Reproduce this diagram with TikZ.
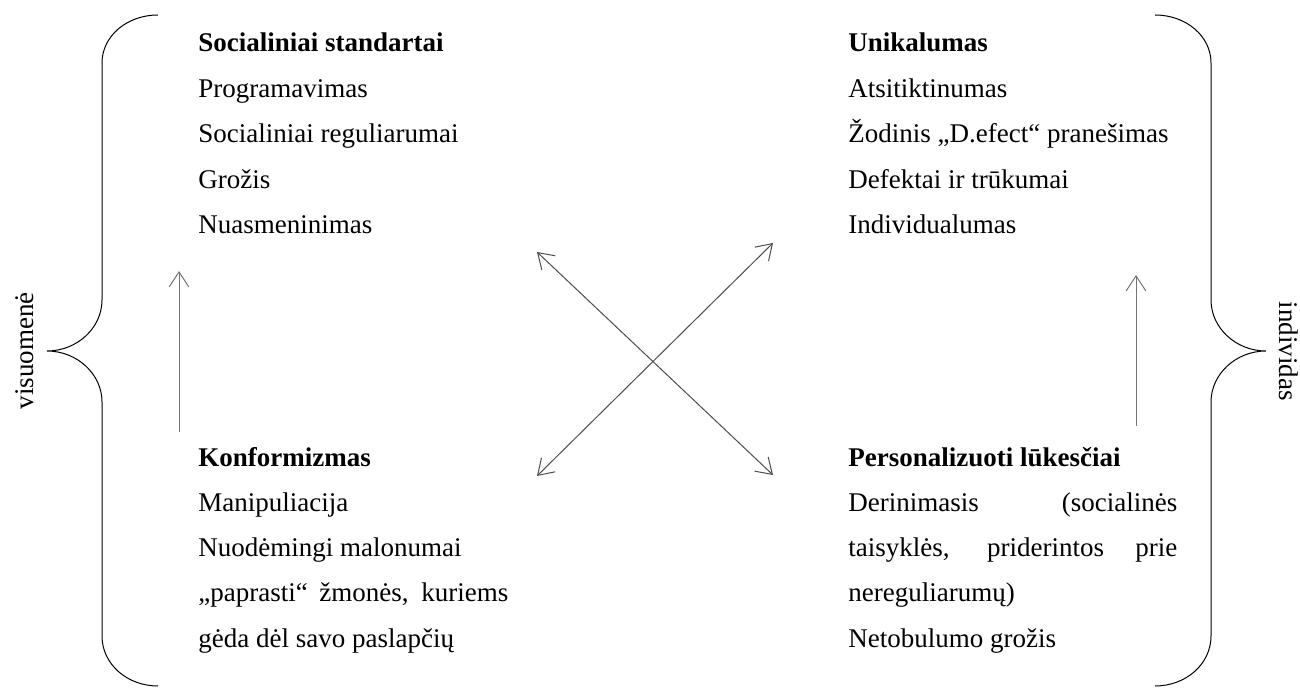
\documentclass[tikz,border=0pt]{standalone}
\usepackage{fontspec}
\setmainfont{Liberation Serif}
\usetikzlibrary{arrows.meta}
\tikzset{
  txt/.style={anchor=base west, inner sep=0pt, font=\fontsize{13.5}{16}\selectfont},
  hd/.style={txt, font=\fontsize{13.5}{16}\selectfont\bfseries},
  side/.style={inner sep=0pt, font=\fontsize{13.5}{16}\selectfont},
  brace/.style={line width=0.5pt, draw=black},
  conn/.style={line width=0.5pt, draw=black!70, {Straight Barb[length=7.5pt,width=9.8pt]}-{Straight Barb[length=7.5pt,width=9.8pt]}},
  upconn/.style={line width=0.5pt, draw=black!55, -{Straight Barb[length=7.5pt,width=9.8pt]}}
}
\begin{document}
\begin{tikzpicture}[x=0.5pt,y=-0.5pt]
\useasboundingbox (0,0) rectangle (1300,688);

% braces
\draw[brace] (158,15) .. controls (127,15) and (102,36) .. (102,63) -- (102,300)
  .. controls (102,328) and (77,351) .. (47,351)
  .. controls (77,351) and (102,374) .. (102,402) -- (102,636)
  .. controls (102,664) and (127,686) .. (158,686);
\draw[brace] (1155,15) .. controls (1186,15) and (1211,36) .. (1211,63) -- (1211,300)
  .. controls (1211,328) and (1236,351) .. (1266,351)
  .. controls (1236,351) and (1211,374) .. (1211,402) -- (1211,636)
  .. controls (1211,664) and (1186,686) .. (1155,686);

% side labels
\node[side, rotate=90, anchor=base] (vis) at (33,351) {visuomenė};
\node[side, rotate=-90, anchor=base] (ind) at (1279,351) {individas};

% top-left
\node[hd] (sst) at (198,52) {Socialiniai standartai};
\node[txt] (prog) at (198,97.5) {Programavimas};
\node[txt] (sreg) at (198,143) {Socialiniai reguliarumai};
\node[txt] (groz) at (198,188.5) {Grožis};
\node[txt] (nuas) at (198,234) {Nuasmeninimas};

% top-right
\node[hd] (unik) at (848,52) {Unikalumas};
\node[txt] (atsi) at (848,97.5) {Atsitiktinumas};
\node[txt] (zod) at (848,143) {Žodinis „D.efect“ pranešimas};
\node[txt] (def) at (848,188.5) {Defektai ir trūkumai};
\node[txt] (indv) at (848,234) {Individualumas};

% bottom-left
\node[hd] (konf) at (198,467) {Konformizmas};
\node[txt] (manip) at (198,512) {Manipuliacija};
\node[txt] (nuod) at (198,557) {Nuodėmingi malonumai};
\node[txt] (papr) at (198,602) {\makebox[155pt][s]{„paprasti“ žmonės, kuriems}};
\node[txt] (geda) at (198,647) {gėda dėl savo paslapčių};

% bottom-right
\node[hd] (pers) at (848,467) {Personalizuoti lūkesčiai};
\node[txt] (der) at (848,512) {\makebox[164.5pt][s]{Derinimasis (socialinės}};
\node[txt] (tais) at (848,557) {\makebox[164.5pt][s]{taisyklės, priderintos prie}};
\node[txt] (nereg) at (848,602) {nereguliarumų)};
\node[txt] (neto) at (848,647) {Netobulumo grožis};

% connector end points
\coordinate (lt) at (179,432);
\coordinate (lh) at (179,271);
\coordinate (rt) at (1136,426);
\coordinate (rh) at (1136,275);
\coordinate (xa) at (537,252);
\coordinate (xb) at (773,475);
\coordinate (xc) at (537,476);
\coordinate (xd) at (773,243);

\draw[upconn] (lt) -- (lh);
\draw[upconn] (rt) -- (rh);
\draw[conn] (xa) -- (xb);
\draw[conn] (xc) -- (xd);
\end{tikzpicture}
\end{document}
